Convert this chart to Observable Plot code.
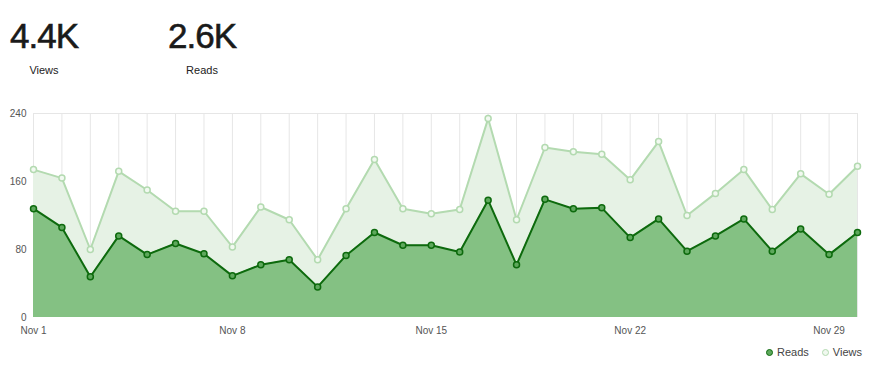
<!DOCTYPE html>
<html><head><meta charset="utf-8">
<script src="https://cdn.jsdelivr.net/npm/d3@7"></script>
<script src="https://cdn.jsdelivr.net/npm/@observablehq/plot@0.6"></script>
<style>
body{margin:0;background:#fff;font-family:"Liberation Sans",Arial,sans-serif;width:875px;height:368px;overflow:hidden;position:relative}
.stat{position:absolute;top:14px;text-align:center;color:#1a1a1a}
.stat .num{font-size:35px;letter-spacing:-1px;line-height:44px;-webkit-text-stroke:0.6px #1a1a1a}
.stat .lab{font-size:11px;margin-top:6px;color:#222}
#chart{position:absolute;top:100px;left:0}
#legend{position:absolute;top:346px;left:766px;font-size:11px;color:#444;display:flex;align-items:center;gap:4px}
#legend .dot{display:inline-block;width:5px;height:5px;border-radius:50%;border:1.5px solid}
</style></head>
<body>
<div class="stat" style="left:4px;width:80px"><div class="num" id="v"></div><div class="lab">Views</div></div>
<div class="stat" style="left:162px;width:80px"><div class="num" id="r"></div><div class="lab">Reads</div></div>
<div id="chart"></div>
<div id="legend">
<span class="dot" style="background:#5ea85c;border-color:#0d6a0d"></span><span style="margin-right:9px">Reads</span>
<span class="dot" style="background:#f0f8ef;border-color:#b3dab0"></span><span>Views</span>
</div>
<script>
const days = Array.from({length:30},(_,i)=>i+1);
const views = [174,164,80,172,150,125,125,83,130,115,68,128,186,128,122,127,234,115,200,195,192,162,207,120,146,174,127,169,145,178];
const reads = [128,106,48,96,74,87,75,49,62,68,36,73,100,85,85,77,138,62,139,128,129,94,116,78,96,116,78,104,74,100];
const totals = {views:"4.4K", reads:"2.6K"};
const yTicks = [0,80,160,240];
const xTickDays = [1,8,15,22,29];

document.getElementById("v").textContent = totals.views;
document.getElementById("r").textContent = totals.reads;

const data = days.map((d,i)=>({date:new Date(Date.UTC(2023,10,d)), views:views[i], reads:reads[i]}));
const fmt = d3.utcFormat("%b %-d");

const chart = Plot.plot({
  width:875, height:240,
  marginTop:13, marginBottom:23, marginLeft:33, marginRight:18,
  style:{fontFamily:"Liberation Sans, Arial, sans-serif", fontSize:"10px", color:"#555", background:"transparent"},
  x:{type:"utc", domain:[data[0].date, data[data.length-1].date], ticks:xTickDays.map(d=>new Date(Date.UTC(2023,10,d))), tickFormat:fmt, tickSize:0, tickPadding:9, label:null},
  y:{domain:[0,240], ticks:yTicks, tickSize:0, tickPadding:7, label:null},
  marks:[
    Plot.ruleX(data,{x:"date", y1:0, y2:240, stroke:"#e6e6e6", strokeWidth:1}),
    Plot.ruleY([240],{stroke:"#e6e6e6"}),
    Plot.areaY(data,{x:"date", y:"views", fill:"#e6f2e5", curve:"linear"}),
    Plot.areaY(data,{x:"date", y:"reads", fill:"#84c183", curve:"linear"}),
    Plot.lineY(data,{x:"date", y:"views", stroke:"#b3dab0", strokeWidth:2}),
    Plot.lineY(data,{x:"date", y:"reads", stroke:"#0d6a0d", strokeWidth:2}),
    Plot.dot(data,{x:"date", y:"views", r:3, fill:"#f2f9f1", stroke:"#b3dab0", strokeWidth:1.5}),
    Plot.dot(data,{x:"date", y:"reads", r:3, fill:"#5ea85c", stroke:"#0d6a0d", strokeWidth:1.5})
  ]
});
document.getElementById("chart").appendChild(chart);
</script>
</body></html>
